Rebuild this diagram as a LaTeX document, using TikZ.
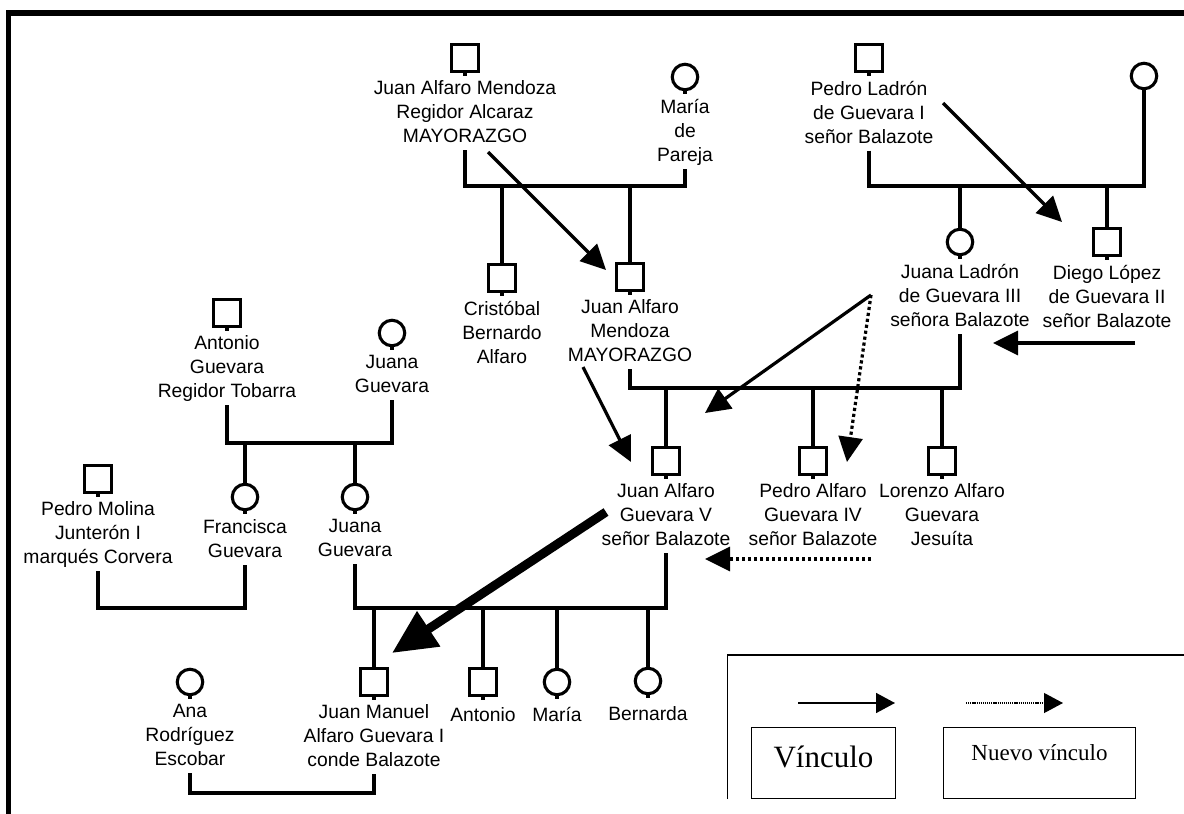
\documentclass[tikz,border=0pt]{standalone}
\usepackage{fontspec}
\setmainfont{Liberation Sans}
\newfontfamily\legendfont{Liberation Serif}
\usetikzlibrary{positioning,arrows.meta}

\begin{document}
\begin{tikzpicture}[x=1pt,y=-1pt,
	tree/.style={line width=3.1pt},
	man/.style={draw,line width=3.1pt,minimum size=26.5pt,inner sep=0pt,append after command={(\tikzlastnode.south) edge[tree] ++(0,3)}},
	woman/.style={man,circle,minimum size=25.5pt},
	lbl/.style={font=\fontsize{19.3}{24}\selectfont,align=center,inner xsep=2pt,inner ysep=0pt,execute at begin node=\strut,execute at end node=\rule[-5pt]{0pt}{5pt}},
	lnk/.style={line width=3.2pt,-{Triangle[length=25pt,width=24pt]}},
	newlnk/.style={lnk,dash pattern=on 3.2pt off 2.8pt},
	heir/.style={line width=9pt,-{Triangle[length=44pt,width=40pt]}},
	legbox/.style={draw,line width=1.5pt,inner sep=0pt},
	leglnk/.style={line width=1.6pt,-{Triangle[length=19pt,width=20pt]}},
	legnew/.style={leglnk,line width=1.2pt,dash pattern=on 1.2pt off 0.9pt}]
	\useasboundingbox (0,0) rectangle (1184,814);
	\draw[line width=5.5pt] (8.5,814) |- (1184,13);
	\draw[line width=1.5pt] (727.5,799) |- (1184,655);

	\node[man] (jam) at (465,58) {};
	\node[lbl,below=8pt of jam] (jamt) {Juan Alfaro Mendoza\\Regidor Alcaraz\\MAYORAZGO};
	\node[woman] (mp) at (685,77) {};
	\node[lbl,below=8pt of mp] (mpt) {María\\de\\Pareja};
	\node[man] (plg) at (869,58) {};
	\node[lbl,below=8pt of plg] (plgt) {Pedro Ladrón\\de Guevara I\\señor Balazote};
	\node[woman] (wpl) at (1144,76) {};
	\node[man] (cb) at (502,278) {};
	\node[lbl,below=8pt of cb] (cbt) {Cristóbal\\Bernardo\\Alfaro};
	\node[man] (jamc) at (630,277) {};
	\node[lbl,below=8pt of jamc] (jamct) {Juan Alfaro\\Mendoza\\MAYORAZGO};
	\node[woman] (jl) at (960,242) {};
	\node[lbl,below=8pt of jl] (jlt) {Juana Ladrón\\de Guevara III\\señora Balazote};
	\node[man] (dlg) at (1107,242) {};
	\node[lbl,below=8pt of dlg] (dlgt) {Diego López\\de Guevara II\\señor Balazote};
	\node[man] (ag) at (227,313) {};
	\node[lbl,below=8pt of ag] (agt) {Antonio\\Guevara\\Regidor Tobarra};
	\node[woman] (jg) at (392,333) {};
	\node[lbl,below=8pt of jg] (jgt) {Juana\\Guevara};
	\node[man] (pm) at (98,479) {};
	\node[lbl,below=8pt of pm] (pmt) {Pedro Molina\\Junterón I\\marqués Corvera};
	\node[woman] (fg) at (245,497) {};
	\node[lbl,below=8pt of fg] (fgt) {Francisca\\Guevara};
	\node[woman] (jgh) at (355,497) {};
	\node[lbl,below=8pt of jgh] (jght) {Juana\\Guevara};
	\node[man] (jagv) at (666,461) {};
	\node[lbl,below=8pt of jagv] (jagvt) {Juan Alfaro\\Guevara V\\señor Balazote};
	\node[man] (pagiv) at (813,461) {};
	\node[lbl,below=8pt of pagiv] (pagivt) {Pedro Alfaro\\Guevara IV\\señor Balazote};
	\node[man] (lag) at (942,461) {};
	\node[lbl,below=8pt of lag] (lagt) {Lorenzo Alfaro\\Guevara\\Jesuíta};
	\node[woman] (ar) at (190,682) {};
	\node[lbl,below=8pt of ar] (art) {Ana\\Rodríguez\\Escobar};
	\node[man] (jm) at (374,682) {};
	\node[lbl,below=8pt of jm] (jmt) {Juan Manuel\\Alfaro Guevara I\\conde Balazote};
	\node[man] (an) at (483,682) {};
	\node[lbl,below=8pt of an] (ant) {Antonio};
	\node[woman] (ma) at (557,682) {};
	\node[lbl,below=8pt of ma] (mat) {María};
	\node[woman] (be) at (648,681) {};
	\node[lbl,below=8pt of be] (bet) {Bernarda};

	\coordinate (b1) at (0,186);
	\coordinate (b2) at (0,388);
	\coordinate (b3) at (0,443);
	\coordinate (b4) at (0,608);
	\coordinate (b5) at (0,793);
	\draw[tree] (jamt.south) -- (jamt.south |- b1) -- (mpt.south |- b1) -- (mpt.south);
	\draw[tree] (plgt.south) -- (plgt.south |- b1) -- (wpl.south |- b1) -- (wpl.south);
	\foreach \c in {cb,jamc,jl,dlg} \draw[tree] (\c) -- (\c |- b1);
	\draw[tree] (jamct.south) -- (jamct.south |- b2) -- (jlt.south |- b2) -- (jlt.south);
	\foreach \c in {jagv,pagiv,lag} \draw[tree] (\c) -- (\c |- b2);
	\draw[tree] (agt.south) -- (agt.south |- b3) -- (jgt.south |- b3) -- (jgt.south);
	\foreach \c in {fg,jgh} \draw[tree] (\c) -- (\c |- b3);
	\draw[tree] (pmt.south) -- (pmt.south |- b4) -- (fgt.south |- b4) -- (fgt.south);
	\draw[tree] (jght.south) -- (jght.south |- b4) -- (jagvt.south |- b4) -- (jagvt.south);
	\foreach \c in {jm,an,ma,be} \draw[tree] (\c) -- (\c |- b4);
	\draw[tree] (art.south) -- (art.south |- b5) -- (jmt.south |- b5) -- (jmt.south);

	\coordinate (jam-a) at (488,152);
	\coordinate (jamc-a) at (606,270);
	\coordinate (plg-a) at (943,103);
	\coordinate (dlg-a) at (1062,222);
	\coordinate (dlg-b) at (1135,343);
	\coordinate (jl-a) at (993,343);
	\coordinate (jl-b) at (871,295);
	\coordinate (jagv-a) at (705,413);
	\coordinate (pagiv-a) at (847,462);
	\coordinate (jamc-b) at (583,367);
	\coordinate (jagv-b) at (631,462);
	\coordinate (pagiv-b) at (871,559);
	\coordinate (jagv-c) at (705,559);
	\coordinate (jagv-d) at (606,512);
	\coordinate (jm-a) at (392,653);
	\draw[lnk] (jam-a) -- (jamc-a);
	\draw[lnk] (plg-a) -- (dlg-a);
	\draw[lnk] (dlg-b) -- (jl-a);
	\draw[lnk] (jl-b) -- (jagv-a);
	\draw[newlnk] (jl-b) -- (pagiv-a);
	\draw[lnk] (jamc-b) -- (jagv-b);
	\draw[newlnk] (pagiv-b) -- (jagv-c);
	\draw[heir] (jagv-d) -- (jm-a);

	\node[legbox,minimum width=144pt,minimum height=71pt,font=\legendfont\fontsize{31}{36}\selectfont,text height=22pt,text depth=14pt] (vinc) at (823.5,763) {Vínculo};
	\node[legbox,minimum width=192pt,minimum height=71pt,font=\legendfont\fontsize{23}{28}\selectfont,text height=16pt,text depth=22pt] (nvinc) at (1039.5,763) {Nuevo vínculo};
	\coordinate (vinc-a) at (798,703);
	\coordinate (vinc-b) at (895,703);
	\coordinate (nvinc-a) at (966,703);
	\coordinate (nvinc-b) at (1063,703);
	\draw[leglnk] (vinc-a) -- (vinc-b);
	\draw[legnew] (nvinc-a) -- (nvinc-b);
\end{tikzpicture}
\end{document}
